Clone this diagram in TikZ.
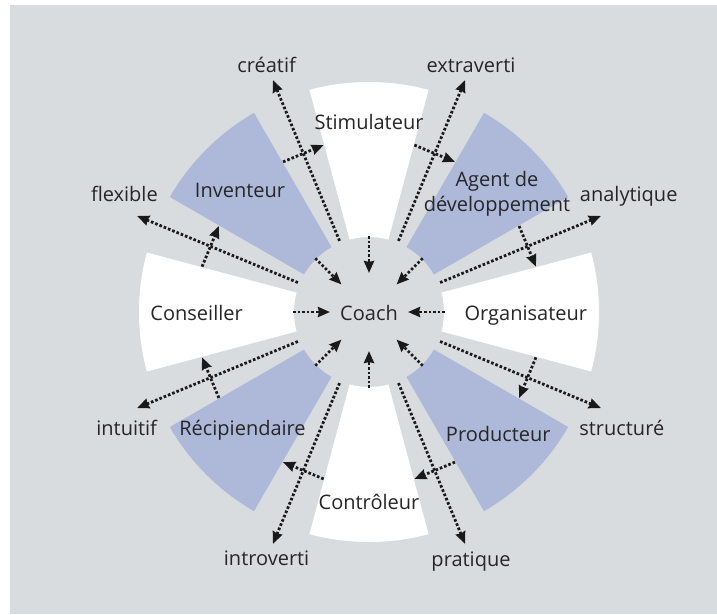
\documentclass[tikz,border=0pt]{standalone}
\usepackage{fontspec}
\setmainfont{Open Sans}
\usetikzlibrary{arrows.meta}
\definecolor{bggrey}{RGB}{217,220,223}
\definecolor{secblue}{RGB}{174,185,218}
\definecolor{txt}{RGB}{38,38,38}
\tikzset{
  lbl/.style={anchor=base, text=txt, font=\fontsize{20}{26}\selectfont, inner sep=0pt},
  darr/.style={line width=2.8pt, dash pattern=on 2.6pt off 2pt, draw=black!90,
    -{Stealth[length=12pt,width=10pt,inset=1pt]}},
}
\begin{document}
\begin{tikzpicture}[x=1pt,y=1pt]
\useasboundingbox (0,0) rectangle (717,-614);
\fill[bggrey] (10,-5) rectangle (717,-614);
\begin{scope}[shift={(369,-312)}]
  % sectors
  \foreach \a/\c [evaluate=\a as \b using \a+30] in {75/white,165/white,255/white,345/white,30/secblue,120/secblue,210/secblue,300/secblue}
    \fill[\c] (\a:75) arc[start angle=\a, end angle=\b, radius=75] -- (\b:230) arc[start angle=\b, end angle=\a, radius=230] -- cycle;
  % named coordinates for the connectors
  \foreach \i in {0,...,7} {
    \pgfmathsetmacro\g{22.5+45*\i}
    \pgfmathsetmacro\h{45*\i}
    \pgfmathsetmacro\gp{\g+7.3}
    \pgfmathsetmacro\gm{\g-7.3}
    \coordinate (ri\i) at (\g:77);
    \coordinate (ro\i) at (\g:251);
    \coordinate (si\i) at (\h:76);
    \coordinate (so\i) at (\h:39);
    \coordinate (ta\i) at (\gp:173);
    \coordinate (tb\i) at (\gm:173);
  }
  \foreach \i in {0,...,7} {
    \draw[darr] (ri\i) -- (ro\i);
    \draw[darr] (si\i) -- (so\i);
    \draw[darr] (ta\i) -- (tb\i);
  }
\end{scope}
% labels
\node[lbl] (creatif) at (266.6,-72.4) {créatif};
\node[lbl] (extraverti) at (471,-72.4) {extraverti};
\node[lbl] (stimulateur) at (369,-129.2) {Stimulateur};
\node[lbl] (inventeur) at (240,-197.7) {Inventeur};
\node[lbl] (agentA) at (497,-186) {Agent de};
\node[lbl] (agentB) at (497,-211) {développement};
\node[lbl] (flexible) at (124.4,-201.6) {flexible};
\node[lbl] (analytique) at (628.7,-201.6) {analytique};
\node[lbl] (conseiller) at (196.6,-320) {Conseiller};
\node[lbl] (coach) at (369,-320.3) {Coach};
\node[lbl] (organisateur) at (525.8,-320) {Organisateur};
\node[lbl] (intuitif) at (126.7,-435.8) {intuitif};
\node[lbl] (recipiendaire) at (242.5,-435) {Récipiendaire};
\node[lbl] (producteur) at (498.3,-441.2) {Producteur};
\node[lbl] (structure) at (621.8,-435.8) {structuré};
\node[lbl] (controleur) at (369,-509.5) {Contrôleur};
\node[lbl] (introverti) at (266.6,-565.8) {introverti};
\node[lbl] (pratique) at (471,-566.5) {pratique};
\end{tikzpicture}
\end{document}
